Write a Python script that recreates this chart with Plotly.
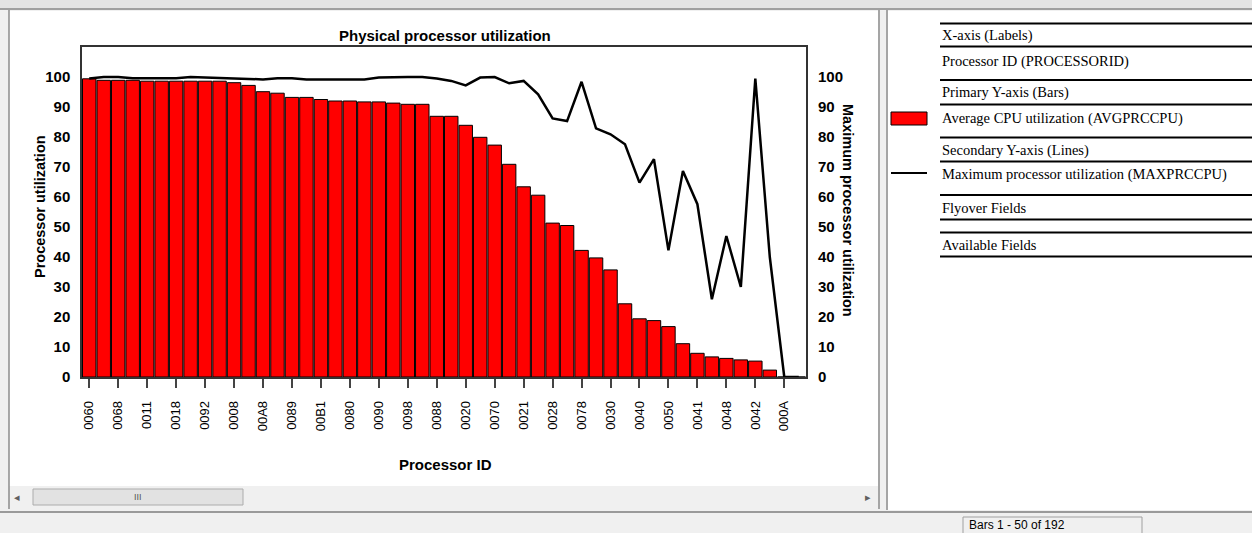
import plotly.graph_objects as go

# ---------------- data ----------------
processor_ids = [
    "0060", "0061", "0068", "0069", "0011", "0010", "0018", "0019", "0092", "0093",
    "0008", "0009", "00A8", "00A9", "0089", "008A", "00B1", "00B0", "0080", "0081",
    "0090", "0091", "0098", "0099", "0088", "008B", "0020", "0022", "0070", "0071",
    "0021", "0023", "0028", "0029", "0078", "0079", "0030", "0031", "0040", "0043",
    "0050", "0051", "0041", "0049", "0048", "004A", "0042", "0044", "000A", "000B",
]
avg_cpu = [
    99.4, 98.9, 98.9, 98.9, 98.6, 98.6, 98.6, 98.6, 98.6, 98.6,
    98.1, 97.2, 95.1, 94.6, 93.2, 93.2, 92.5, 92.0, 92.0, 91.7,
    91.7, 91.3, 90.9, 90.9, 86.9, 86.9, 83.9, 79.9, 77.3, 70.9,
    63.4, 60.6, 51.3, 50.5, 42.2, 39.7, 35.7, 24.4, 19.4, 18.8,
    16.8, 11.1, 7.9, 6.7, 6.2, 5.7, 5.3, 2.3, 0.0, 0.0,
]
max_cpu = [
    99.5, 100.0, 100.0, 99.6, 99.6, 99.6, 99.6, 100.0, 99.8, 99.6,
    99.6, 99.4, 99.2, 99.6, 99.6, 99.2, 99.2, 99.2, 99.2, 99.2,
    99.8, 100.0, 100.0, 100.0, 99.5, 98.7, 97.2, 99.8, 100.0, 97.9,
    98.7, 94.2, 86.2, 85.3, 98.4, 82.9, 80.9, 77.6, 64.8, 72.6,
    42.2, 68.7, 57.6, 25.9, 47.0, 30.0, 99.5, 40.0, 0.0, 0.0,
]
y_ticks = [0, 10, 20, 30, 40, 50, 60, 70, 80, 90, 100]

panel_items = [
    "X-axis (Labels)",
    "Processor ID (PROCESSORID)",
    "Primary Y-axis (Bars)",
    "Average CPU utilization (AVGPRCCPU)",
    "Secondary Y-axis (Lines)",
    "Maximum processor utilization (MAXPRCCPU)",
    "Flyover Fields",
    "Available Fields",
]

# ---------------- layout geometry (pixels) ----------------
W, H = 1252, 533
L, R, T, B = 82, 806, 47, 377


def px(x):
    return (x - L) / (R - L)


def py(y):
    return (B - y) / (B - T)


SANS = "Liberation Sans, Arial, sans-serif"
SERIF = "Liberation Serif, Times New Roman, serif"

fig = go.Figure()
fig.add_trace(go.Bar(
    x=processor_ids, y=avg_cpu, name="Average CPU utilization (AVGPRCCPU)",
    marker=dict(color="#ff0000", line=dict(color="#000000", width=1)),
    yaxis="y",
))
fig.add_trace(go.Scatter(
    x=processor_ids, y=max_cpu, name="Maximum processor utilization (MAXPRCCPU)",
    mode="lines", line=dict(color="#000000", width=2.5),
    yaxis="y2",
))

shapes = []
annotations = []


def note(text, x, y, size, family=SANS, xanchor="center", yanchor="middle",
         color="#000000", angle=0):
    annotations.append(dict(text=text, xref="paper", yref="paper", x=px(x), y=py(y),
                            xanchor=xanchor, yanchor=yanchor, showarrow=False,
                            textangle=angle,
                            font=dict(family=family, size=size, color=color)))


# window background pieces
shapes += [
    dict(type="rect", xref="paper", yref="paper", x0=px(0), x1=px(W), y0=py(0), y1=py(9),
         fillcolor="#e4e4e4", line=dict(width=0), layer="below"),
    dict(type="line", xref="paper", yref="paper", x0=px(0), x1=px(W), y0=py(9), y1=py(9),
         line=dict(color="#a0a0a0", width=2), layer="below"),
    dict(type="rect", xref="paper", yref="paper", x0=px(9), x1=px(878), y0=py(11), y1=py(486),
         fillcolor="#ffffff", line=dict(width=0), layer="below"),
    dict(type="line", xref="paper", yref="paper", x0=px(9), x1=px(9), y0=py(10), y1=py(509),
         line=dict(color="#8c8c8c", width=1.5), layer="below"),
    dict(type="line", xref="paper", yref="paper", x0=px(879), x1=px(879), y0=py(10), y1=py(509),
         line=dict(color="#8c8c8c", width=1.5), layer="below"),
    dict(type="rect", xref="paper", yref="paper", x0=px(888), x1=px(W), y0=py(11), y1=py(510),
         fillcolor="#ffffff", line=dict(width=0), layer="below"),
    dict(type="line", xref="paper", yref="paper", x0=px(887), x1=px(887), y0=py(10), y1=py(510),
         line=dict(color="#8c8c8c", width=1.5), layer="below"),
    dict(type="rect", xref="paper", yref="paper", x0=px(10), x1=px(878), y0=py(486), y1=py(508),
         fillcolor="#f0f0f0", line=dict(width=0), layer="below"),
    dict(type="rect", xref="paper", yref="paper", x0=px(33), x1=px(243), y0=py(489), y1=py(505),
         fillcolor="#e2e2e2", line=dict(color="#acacac", width=1), layer="below"),
    dict(type="line", xref="paper", yref="paper", x0=px(0), x1=px(W), y0=py(512), y1=py(512),
         line=dict(color="#9a9a9a", width=2), layer="below"),
    dict(type="rect", xref="paper", yref="paper", x0=px(0), x1=px(W), y0=py(514), y1=py(H),
         fillcolor="#f0f0f0", line=dict(width=0), layer="below"),
    dict(type="rect", xref="paper", yref="paper", x0=px(963), x1=px(1142), y0=py(517), y1=py(H + 2),
         fillcolor="#f0f0f0", line=dict(color="#a0a0a0", width=1), layer="below"),
]

note("\u25c2", 17, 497, 11, color="#606060")
note("\u25b8", 868, 497, 11, color="#606060")
note("III", 138, 497, 9, color="#555555")
note("Bars 1 - 50 of 192", 967, 524.5, 12, xanchor="left", yanchor="middle")

# right panel (field list)
for yl in [23.5, 46.5, 80, 104.5, 137.5, 161.5, 195, 219.5, 232.5, 256.5]:
    shapes.append(dict(type="line", xref="paper", yref="paper", x0=px(940), x1=px(W),
                       y0=py(yl), y1=py(yl), line=dict(color="#000000", width=2)))
for txt, yc in zip(panel_items, [35, 62, 92.5, 119, 150, 174, 207.5, 245]):
    note(txt, 940, yc, 14.5, family=SERIF, xanchor="left")
shapes += [
    dict(type="rect", xref="paper", yref="paper", x0=px(891), x1=px(927), y0=py(112), y1=py(125),
         fillcolor="#ff0000", line=dict(color="#000000", width=1)),
    dict(type="line", xref="paper", yref="paper", x0=px(891), x1=px(927), y0=py(173), y1=py(173),
         line=dict(color="#000000", width=2)),
]

# chart titles
note("<b>Physical processor utilization</b>", 445, 36, 15)
note("<b>Processor utilization</b>", 40, 207, 14.5, angle=-90)
note("<b>Maximum processor utilization</b>", 848, 210, 14.5, angle=90)
note("<b>Processor ID</b>", 445, 464, 15)

fig.update_layout(
    width=W, height=H,
    margin=dict(l=L, r=W - R, t=T, b=H - B, pad=0),
    paper_bgcolor="#f0f0f0", plot_bgcolor="#ffffff",
    showlegend=False, bargap=0.07,
    shapes=shapes, annotations=annotations,
    xaxis=dict(
        type="category", range=[-0.5, len(processor_ids) - 0.5],
        tickmode="array", tickvals=processor_ids[0::2],
        tickangle=-90, ticks="outside", ticklen=9, tickwidth=1.5, tickcolor="#444444",
        ticklabelstandoff=8,
        tickfont=dict(family=SANS, size=13, color="#000000"),
        showline=True, linecolor="#333333", linewidth=1.5, mirror=True,
        showgrid=False, zeroline=False, fixedrange=True,
    ),
    yaxis=dict(
        range=[0, 110], tickmode="array", tickvals=y_ticks,
        ticks="outside", ticklen=7, tickcolor="rgba(0,0,0,0)",
        tickfont=dict(family=SANS, size=15, color="#000000", weight="bold"),
        showline=True, linecolor="#333333", linewidth=1.5, mirror=True,
        showgrid=False, zeroline=False, fixedrange=True,
    ),
    yaxis2=dict(
        range=[0, 110], tickmode="array", tickvals=y_ticks,
        overlaying="y", side="right",
        ticks="outside", ticklen=8, tickcolor="rgba(0,0,0,0)",
        tickfont=dict(family=SANS, size=15, color="#000000", weight="bold"),
        showline=False, showgrid=False, zeroline=False, fixedrange=True,
    ),
)

fig.write_html(
    "out.html",
    config={"displayModeBar": False},
    post_script="document.body.style.margin='0';document.body.style.overflow='hidden';",
)
